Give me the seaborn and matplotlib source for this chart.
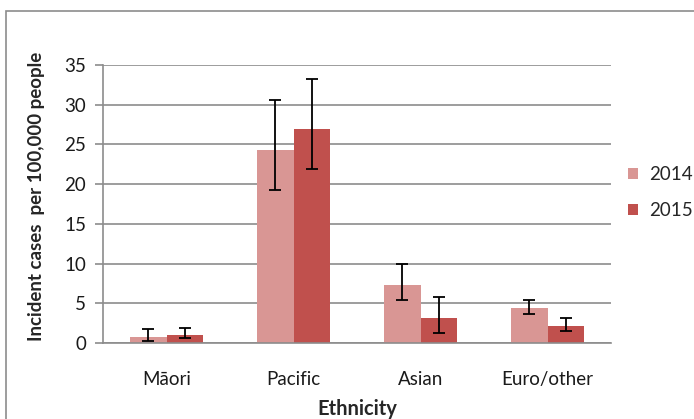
import numpy as np
import pandas as pd
import matplotlib
matplotlib.use("Agg")
import matplotlib.pyplot as plt
import seaborn as sns
from matplotlib.patches import Rectangle
from matplotlib.ticker import FixedLocator

categories = ['Māori', 'Pacific', 'Asian', 'Euro/other']
years = ['2014', '2015']
v2014 = [0.75, 24.3, 7.3, 4.4]
v2015 = [0.95, 27.0, 3.2, 2.15]
lo2014 = [0.2, 19.2, 5.4, 3.7]
hi2014 = [1.7, 30.6, 9.9, 5.4]
lo2015 = [0.6, 21.9, 1.3, 1.45]
hi2015 = [1.9, 33.2, 5.8, 3.1]
yticks = [0, 5, 10, 15, 20, 25, 30, 35]

colors = {'2014': '#D99694', '2015': '#C0504D'}

df = pd.DataFrame({
    'Ethnicity': categories * 2,
    'Year': ['2014'] * 4 + ['2015'] * 4,
    'Rate': v2014 + v2015,
})

sns.set_style('white')
plt.rcParams['font.family'] = ['Lato', 'DejaVu Sans']

W, H = 694, 419
fig = plt.figure(figsize=(W / 100, H / 100), dpi=100)
ax = fig.add_axes([103 / W, (H - 343) / H, (611 - 103) / W, (343 - 65) / H])

# outer frame
fig.patches.append(Rectangle((6 / W, -0.1), 1.2, (H - 11) / H + 0.1, transform=fig.transFigure,
                             fill=False, edgecolor='#8c8c8c', linewidth=1.2, zorder=0))

sns.barplot(data=df, x='Ethnicity', y='Rate', hue='Year', order=categories, hue_order=years,
            palette=colors, width=0.57, gap=0, saturation=1, errorbar=None, ax=ax, zorder=2,
            linewidth=0)

# error bars at bar centres
los = {'2014': lo2014, '2015': lo2015}
his = {'2014': hi2014, '2015': hi2015}
vals = {'2014': v2014, '2015': v2015}
for cont, yr in zip(ax.containers, years):
    xs = [p.get_x() + p.get_width() / 2 for p in cont.patches]
    v = np.array(vals[yr])
    lower = v - np.array(los[yr])
    upper = np.array(his[yr]) - v
    ax.errorbar(xs, v, yerr=[lower, upper], fmt='none', ecolor='black',
                elinewidth=1.3, capsize=4.5, capthick=1.3, zorder=3)

ax.set_ylim(0, 35)
ax.set_xlim(-0.5, 3.5)
ax.set_yticks(yticks)
ax.set_yticklabels([str(t) for t in yticks], fontsize=13.5, color='#1a1a1a')
ax.yaxis.grid(True, color='#8c8c8c', linewidth=1.2, zorder=0)
ax.set_axisbelow(True)

ax.set_xticks(range(4))
ax.set_xticklabels(categories, fontsize=13.5, color='#1a1a1a')
ax.tick_params(axis='x', which='major', length=0, pad=20)
ax.xaxis.set_minor_locator(FixedLocator([-0.5, 0.5, 1.5, 2.5, 3.5]))
ax.tick_params(axis='x', which='minor', length=6, width=1.2, color='#8c8c8c', direction='out')
ax.tick_params(axis='y', length=6, width=1.2, color='#8c8c8c', direction='out', pad=6, left=True)

for s in ['top', 'right']:
    ax.spines[s].set_visible(False)
for s in ['left', 'bottom']:
    ax.spines[s].set_color('#8c8c8c')
    ax.spines[s].set_linewidth(1.2)

ax.set_xlabel('Ethnicity', fontsize=14.5, fontweight='bold', labelpad=8)
ax.set_ylabel('Incident cases  per 100,000 people', fontsize=13.5, fontweight='bold')
ax.yaxis.set_label_coords((45 - 103) / 508, (343 - 196) / 278)

leg = ax.legend(loc='center left', bbox_to_anchor=(1.033, 0.541), frameon=False, fontsize=13.5,
                handlelength=0.55, handleheight=0.55, handletextpad=0.6, labelspacing=1.0,
                borderpad=0, borderaxespad=0)

fig.savefig('out.png', dpi=100)
